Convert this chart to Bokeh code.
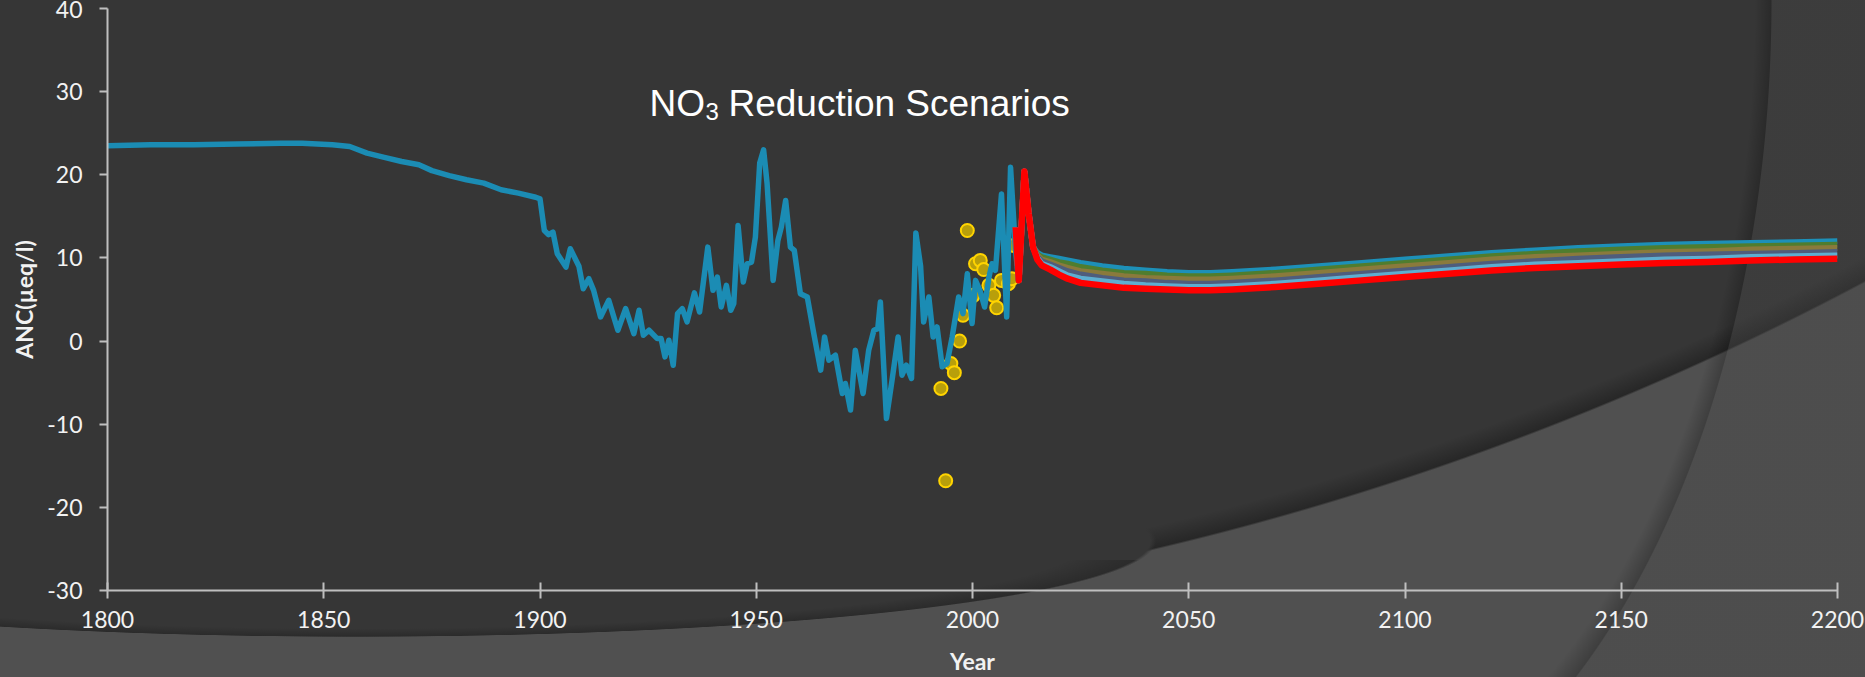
from bokeh.plotting import figure
from bokeh.models import Label, Range1d, SingleIntervalTicker
from bokeh.embed import file_html
from bokeh.resources import INLINE

# ---------------- data ----------------
hist_years = [1800, 1810, 1820, 1830, 1840, 1845, 1852, 1856, 1860, 1864, 1868, 1872,
              1875, 1879, 1883, 1887, 1891, 1895, 1899, 1900, 1901, 1902, 1903, 1904,
              1906, 1907, 1909, 1910, 1911.3, 1912.4, 1914, 1915.9, 1918, 1919.8, 1921.7,
              1922.9, 1923.9, 1925.2, 1927.1, 1928.0, 1928.9, 1929.8, 1930.8, 1931.8,
              1932.9, 1934.0, 1935.7, 1936.9, 1938.8, 1940.0, 1941.0, 1941.9, 1943.1,
              1944.1, 1944.8, 1945.8, 1947.0, 1947.9, 1948.9, 1949.8, 1950.8, 1951.7,
              1952.5, 1953.9, 1955.0, 1955.8, 1956.8, 1957.9, 1958.8, 1960.2, 1961.8,
              1963.3, 1964.9, 1965.8, 1966.8, 1968.3, 1969.9, 1970.6, 1971.8, 1972.9,
              1974.7, 1976.0, 1977.2, 1978.1, 1978.7, 1980.1, 1981.4, 1982.8, 1983.7,
              1984.7, 1985.9, 1986.9, 1988.0, 1988.7, 1989.9, 1990.9, 1991.8, 1993.0,
              1994.1, 1995.3, 1996.8, 1997.8, 1998.8, 1999.9, 2000.7, 2001.7, 2002.8,
              2003.8, 2004.5, 2005.3, 2006.7, 2007.9, 2008.8, 2009.9, 2010.5]
hist_anc = [23.5, 23.6, 23.6, 23.7, 23.8, 23.8, 23.6, 23.4, 22.6, 22.1, 21.6, 21.2,
            20.5, 19.9, 19.4, 19.0, 18.2, 17.8, 17.3, 17.1, 13.3, 12.8, 13.1, 10.5,
            8.9, 11.1, 9.0, 6.3, 7.5, 6.1, 2.9, 4.9, 1.3, 3.9, 0.9,
            3.7, 0.7, 1.3, 0.3, 0.3, -1.9, 0.1, -2.9, 3.3,
            3.9, 2.3, 5.8, 3.5, 11.3, 6.1, 7.7, 4.1, 6.7,
            3.7, 4.5, 13.9, 7.1, 9.3, 9.5, 12.5, 21.4, 23.0,
            19.0, 7.3, 12.1, 13.7, 16.9, 11.3, 10.9, 5.7, 5.3,
            0.9, -3.5, 0.5, -2.3, -1.7, -6.3, -5.1, -8.3, -1.1,
            -6.3, -1.1, 1.3, 1.5, 4.7, -9.3, -4.7, 0.5, -4.1,
            -2.9, -4.5, 13.0, 9.0, 2.3, 5.3, 0.5, 1.7, -3.1,
            -2.7, 0.5, 5.3, 3.3, 8.1, 2.1, 7.3, 6.1, 4.1,
            7.7, 9.3, 8.5, 17.7, 2.9, 20.9, 11.3, 8.0]

obs_years = [1992.7, 1993.8, 1995.0, 1995.8, 1997.0, 1997.8, 1998.8, 2000.2, 2000.7,
             2001.8, 2002.6, 2003.8, 2004.9, 2005.6, 2006.7, 2008.3, 2009.1, 2009.5]
obs_anc = [-5.7, -16.8, -2.7, -3.8, 0.0, 3.1, 13.3, 5.5, 9.3,
           9.7, 8.6, 6.7, 5.5, 4.0, 7.3, 6.9, 7.5, 11.5]

scen_years = [2010, 2010.7, 2012, 2013, 2014, 2015, 2016, 2018, 2020, 2022, 2025, 2030,
              2035, 2040, 2045, 2050, 2055, 2060, 2070, 2080, 2090, 2100, 2110, 2120,
              2130, 2140, 2150, 2160, 2170, 2180, 2190, 2200]
scen_1 = [13.7, 7.3, 20.4, 15.3, 11.3, 10.6, 10.3, 10.1, 9.9, 9.7, 9.4, 9.0,
          8.7, 8.5, 8.3, 8.2, 8.2, 8.3, 8.6, 9.0, 9.4, 9.8, 10.2, 10.6,
          10.9, 11.2, 11.4, 11.6, 11.7, 11.8, 11.9, 12.0]
scen_2 = [13.7, 7.3, 20.4, 15.3, 11.3, 10.4, 10.1, 9.8, 9.5, 9.3, 8.9, 8.5,
          8.2, 8.1, 7.9, 7.8, 7.8, 7.9, 8.2, 8.6, 9.0, 9.4, 9.8, 10.2,
          10.5, 10.8, 11.0, 11.2, 11.3, 11.4, 11.5, 11.6]
scen_3 = [13.7, 7.3, 20.4, 15.3, 11.3, 10.3, 9.8, 9.5, 9.1, 8.8, 8.4, 8.1,
          7.8, 7.6, 7.5, 7.4, 7.4, 7.5, 7.8, 8.2, 8.6, 9.0, 9.4, 9.8,
          10.1, 10.3, 10.5, 10.7, 10.8, 11.0, 11.1, 11.2]
scen_4 = [13.7, 7.3, 20.4, 15.3, 11.3, 10.1, 9.6, 9.2, 8.8, 8.4, 8.0, 7.6,
          7.3, 7.2, 7.0, 6.9, 6.9, 7.0, 7.3, 7.7, 8.1, 8.5, 8.9, 9.3,
          9.6, 9.9, 10.1, 10.3, 10.4, 10.5, 10.6, 10.7]
scen_5 = [13.7, 7.3, 20.4, 15.3, 11.3, 10.0, 9.3, 8.9, 8.4, 7.9, 7.5, 7.2,
          6.9, 6.7, 6.6, 6.5, 6.5, 6.6, 6.9, 7.3, 7.7, 8.1, 8.5, 8.9,
          9.2, 9.4, 9.6, 9.8, 9.9, 10.1, 10.2, 10.3]
scen_6 = [13.7, 7.3, 20.4, 15.3, 11.3, 9.8, 9.1, 8.6, 8.0, 7.5, 7.0, 6.7,
          6.4, 6.3, 6.2, 6.1, 6.1, 6.2, 6.5, 6.9, 7.3, 7.7, 8.1, 8.5,
          8.8, 9.0, 9.2, 9.4, 9.5, 9.7, 9.8, 9.9]

scenarios = [scen_1, scen_2, scen_3, scen_4, scen_5, scen_6]
scen_colors = ["#1d90b8", "#4f7d2f", "#8a7a3c", "#4f5d7c", "#5eaed0", "#ff0000"]

x_ticks_interval = 50
y_ticks_interval = 10
y_label_overrides = {-10: "-10", -20: "-20", -30: "-30"}

# ---------------- figure ----------------
p = figure(width=1865, height=677, output_backend="svg", toolbar_location=None,
           x_range=Range1d(1800, 2200), y_range=Range1d(-30, 40),
           min_border_left=107, min_border_right=28, min_border_top=8,
           min_border_bottom=87)

p.background_fill_color = None
p.border_fill_color = None
p.outline_line_color = None
p.styles = {
    "background-color": "#363636",
    "background-image": (
        # right-hand arc (only in a box at the right side)
        "radial-gradient(494px 850px at 113px 0px, rgba(0,0,0,0) 96.5%, "
        "rgba(0,0,0,0.22) 99.8%, rgba(72,72,72,0.35) 100%), "
        # soft shadow along the lower edge of the bottom-left lobe
        "radial-gradient(800px 96px at 356px -19px, rgba(0,0,0,0) 91%, "
        "rgba(0,0,0,0.2) 99.3%, rgba(0,0,0,0) 100%), "
        # flat dark lobe at the bottom-left
        "radial-gradient(800px 96px at 356px 541px, #363636 99.3%, "
        "rgba(54,54,54,0) 100%), "
        # big circle whose outside is the lighter lower-right region
        "radial-gradient(circle 2947px at 481px -2319px, rgba(0,0,0,0) 99.2%, "
        "rgba(0,0,0,0.28) 99.93%, #505050 100%)"
    ),
    "background-size": "700px 677px, 1865px 117px, 100% 100%, 100% 100%",
    "background-position": "1165px 0px, 0px 560px, 0px 0px, 0px 0px",
    "background-repeat": "no-repeat",
}
p.xgrid.grid_line_color = None
p.ygrid.grid_line_color = None

axis_col = "#bfbfbf"
for ax in (p.xaxis[0], p.yaxis[0]):
    ax.axis_line_color = axis_col
    ax.axis_line_width = 2
    ax.major_tick_line_color = axis_col
    ax.major_tick_line_width = 2
    ax.minor_tick_line_color = None
    ax.major_label_text_font = "Lato"
    ax.major_label_text_font_size = "23px"
    ax.major_label_text_color = "#f2f2f2"
    ax.axis_label_text_font = "Lato"
    ax.axis_label_text_font_style = "bold"
    ax.axis_label_text_font_size = "23px"
    ax.axis_label_text_color = "#f2f2f2"

p.xaxis.ticker = SingleIntervalTicker(interval=x_ticks_interval)
p.yaxis.ticker = SingleIntervalTicker(interval=y_ticks_interval)
p.yaxis.major_label_overrides = y_label_overrides
p.xaxis.major_tick_in = 8
p.xaxis.major_tick_out = 8
p.yaxis.major_tick_in = 0
p.yaxis.major_tick_out = 8
p.xaxis.major_label_standoff = 12
p.yaxis.major_label_standoff = 17
p.xaxis.axis_label = "Year"
p.yaxis.axis_label = "ANC(µeq/l)"
p.xaxis.axis_label_standoff = 16
p.yaxis.axis_label_standoff = 6

# ---------------- glyphs ----------------
p.scatter(obs_years, obs_anc, size=13, fill_color="#b89f0b", line_color="#ffd400",
          line_width=2)
p.line(hist_years, hist_anc, line_color="#1b8cb4", line_width=5.5, line_join="round")
for vals, col in zip(scenarios, scen_colors):
    p.line(scen_years, vals, line_color=col, line_width=6 if col != "#ff0000" else 6.5,
           line_join="round")

# ---------------- title ----------------
tx, ty = 1925.3, 28.6
p.add_layout(Label(x=tx, y=ty, text="NO", text_font="Liberation Sans",
                   text_font_size="37px", text_color="#ffffff",
                   text_baseline="alphabetic"))
p.add_layout(Label(x=tx, y=ty, x_offset=56, y_offset=-8, text="3",
                   text_font="Liberation Sans", text_font_size="24px",
                   text_color="#ffffff", text_baseline="alphabetic"))
p.add_layout(Label(x=tx, y=ty, x_offset=79, text="Reduction Scenarios",
                   text_font="Liberation Sans", text_font_size="37px",
                   text_color="#ffffff", text_baseline="alphabetic"))

open("out.html", "w").write(file_html(p, INLINE))
